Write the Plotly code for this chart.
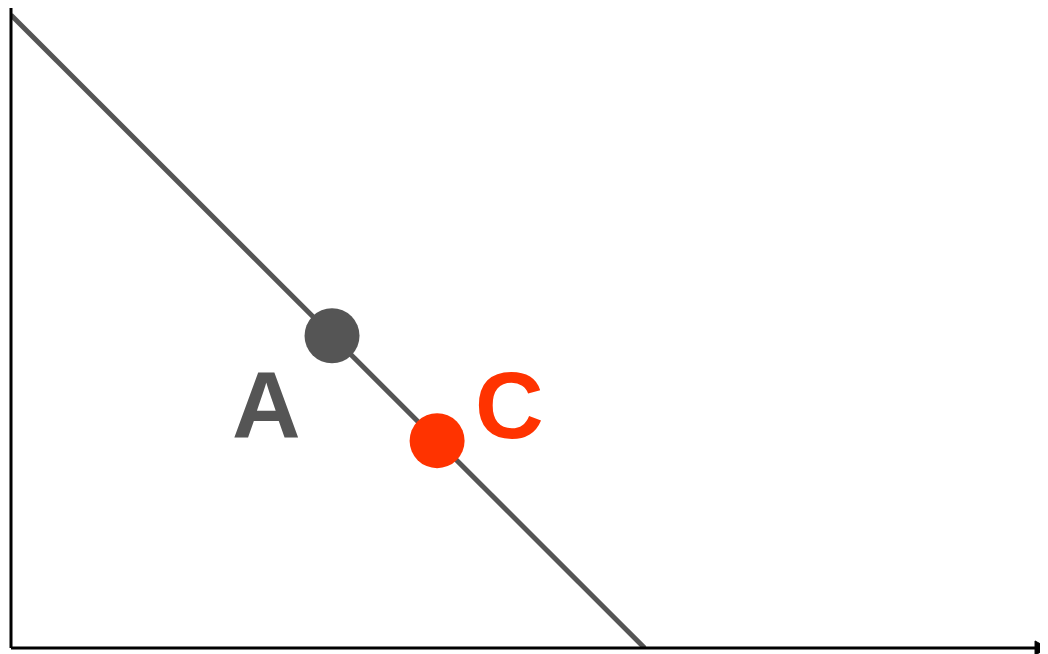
import plotly.graph_objects as go

# Data
budget_x = [0, 6]
budget_y = [10, 0]
point_names = ["A", "C"]
point_x = [3.04, 4.035]
point_y = [4.933, 3.275]
point_colors = ["#555555", "#FF3300"]
label_x = [2.42, 4.72]
label_y = [3.84, 3.84]

X_MAX = 9.82
Y_MAX = 10.111

fig = go.Figure()
fig.add_trace(go.Scatter(x=budget_x, y=budget_y, mode="lines",
                         line=dict(color="#555555", width=5),
                         hoverinfo="skip", showlegend=False, cliponaxis=False))
fig.add_trace(go.Scatter(x=point_x, y=point_y, mode="markers",
                         marker=dict(size=55, color=point_colors, line=dict(width=0)),
                         showlegend=False, cliponaxis=False))

for name, lx, ly, c in zip(point_names, label_x, label_y, point_colors):
    fig.add_annotation(x=lx, y=ly, text=f"<b>{name}</b>", showarrow=False,
                       xanchor="center", yanchor="middle",
                       font=dict(family="Liberation Sans, Arial", size=95, color=c))

# axes
fig.add_shape(type="line", xref="paper", yref="paper", x0=0, x1=0, y0=0, y1=1.0,
              line=dict(color="black", width=3))
fig.add_shape(type="line", xref="paper", yref="paper", x0=0, x1=0.99, y0=0, y1=0,
              line=dict(color="black", width=3))
fig.add_shape(type="path", xref="paper", yref="paper",
              path="M 0.9875 0.011 L 1.0 0 L 0.9875 -0.011 Z",
              fillcolor="black", line=dict(color="black", width=1))

fig.update_xaxes(range=[0, X_MAX], visible=False, showgrid=False, zeroline=False)
fig.update_yaxes(range=[0, Y_MAX], visible=False, showgrid=False, zeroline=False)
fig.update_layout(width=1040, height=646, margin=dict(l=3, r=0, t=0, b=6),
                  plot_bgcolor="white", paper_bgcolor="white")

fig.write_html("out.html")
